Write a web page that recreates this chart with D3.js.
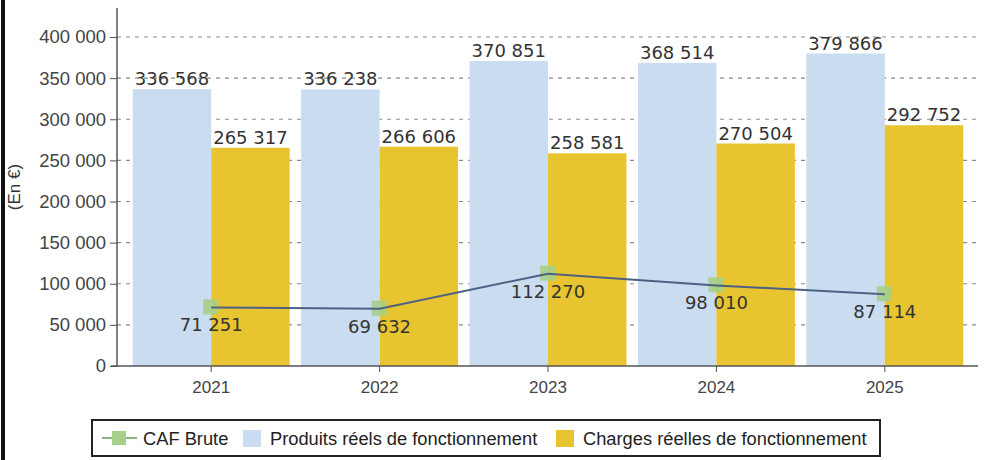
<!DOCTYPE html>
<html>
<head>
<meta charset="utf-8">
<script src="https://cdn.jsdelivr.net/npm/d3@7/dist/d3.min.js"></script>
<style>
  html, body { margin: 0; padding: 0; background: #ffffff; }
  svg { display: block; }
</style>
</head>
<body>
<svg id="chart" width="987" height="460"></svg>
<script>
// ---- Data ----
const years = ["2021", "2022", "2023", "2024", "2025"];
const produits = [336568, 336238, 370851, 368514, 379866];
const charges = [265317, 266606, 258581, 270504, 292752];
const cafBrute = [71251, 69632, 112270, 98010, 87114];
const yTicks = [0, 50000, 100000, 150000, 200000, 250000, 300000, 350000, 400000];
const seriesNames = ["CAF Brute", "Produits réels de fonctionnement", "Charges réelles de fonctionnement"];
const yTitle = "(En €)";

// ---- Setup ----
const svg = d3.select("#chart");
const fmt = d3.formatLocale({ decimal: ",", thousands: " ", grouping: [3], currency: ["", " €"] }).format(",d");

const colBlue = "#cadcf0";
const colYellow = "#e9c431";
const colGreen = "#a6cf88";
const colLine = "#4d6283";

const y = d3.scaleLinear().domain([0, 400000]).range([366, 37]);
const x0 = d3.scaleBand().domain(years).range([127, 969]).paddingInner(0.068).paddingOuter(0.034);
const x1 = d3.scaleBand().domain(["p", "c"]).range([0, x0.bandwidth()]);
const cx = d => x0(d) + x0.bandwidth() / 2;

// left photo border
svg.append("line").attr("x1", 3).attr("x2", 3).attr("y1", 0).attr("y2", 460)
  .attr("stroke", "#111").attr("stroke-width", 4);

// gridlines
svg.append("g").selectAll("line").data(yTicks.filter(t => t > 0)).join("line")
  .attr("x1", 117).attr("x2", 978)
  .attr("y1", d => y(d)).attr("y2", d => y(d))
  .attr("stroke", "#8a8a8a").attr("stroke-width", 1.2).attr("stroke-dasharray", "4,5");

// bars
const groups = svg.append("g").selectAll("g").data(years).join("g")
  .attr("transform", d => `translate(${x0(d)},0)`);
groups.append("rect")
  .attr("x", x1("p")).attr("width", x1.bandwidth())
  .attr("y", (d, i) => y(produits[i])).attr("height", (d, i) => y(0) - y(produits[i]))
  .attr("fill", colBlue);
groups.append("rect")
  .attr("x", x1("c")).attr("width", x1.bandwidth())
  .attr("y", (d, i) => y(charges[i])).attr("height", (d, i) => y(0) - y(charges[i]))
  .attr("fill", colYellow);

// bar labels
const labelStyle = s => s.attr("font-family", "DejaVu Sans, sans-serif").attr("font-size", 18)
  .attr("fill", "#333").attr("text-anchor", "middle");
groups.append("text").call(labelStyle)
  .attr("x", x1("p") + x1.bandwidth() / 2).attr("y", (d, i) => y(produits[i]) - 4)
  .text((d, i) => fmt(produits[i]));
groups.append("text").call(labelStyle)
  .attr("x", x1("c") + x1.bandwidth() / 2).attr("y", (d, i) => y(charges[i]) - 4)
  .text((d, i) => fmt(charges[i]));

// y axis
const yAxis = d3.axisLeft(y).tickValues(yTicks).tickFormat(fmt).tickSize(7).tickPadding(4);
const gy = svg.append("g").attr("transform", "translate(117,0)").call(yAxis);
gy.select(".domain").remove();
gy.selectAll(".tick line").attr("stroke", "#555");
gy.selectAll(".tick text").attr("font-family", "Liberation Sans, Arial, sans-serif")
  .attr("font-size", 18.5).attr("fill", "#444");
svg.append("line").attr("x1", 117).attr("x2", 117).attr("y1", 8).attr("y2", y(0))
  .attr("stroke", "#555").attr("stroke-width", 1.5);

// x axis
const xAxis = d3.axisBottom(x0).tickSize(6).tickPadding(9).tickSizeOuter(0);
const gx = svg.append("g").attr("transform", `translate(0,${y(0)})`).call(xAxis);
gx.select(".domain").remove();
gx.selectAll(".tick line").attr("stroke", "#555");
gx.selectAll(".tick text").attr("font-family", "Liberation Sans, Arial, sans-serif")
  .attr("font-size", 17).attr("fill", "#444");
svg.append("line").attr("x1", 111).attr("x2", 978).attr("y1", y(0)).attr("y2", y(0))
  .attr("stroke", "#555").attr("stroke-width", 1.5);

// y title
svg.append("text").attr("transform", "translate(20,187) rotate(-90)")
  .attr("text-anchor", "middle").attr("font-family", "Liberation Sans, Arial, sans-serif")
  .attr("font-size", 17).attr("fill", "#333").text(yTitle);

// CAF line
svg.append("g").selectAll("rect").data(years).join("rect")
  .attr("x", d => cx(d) - 8).attr("y", (d, i) => y(cafBrute[i]) - 8)
  .attr("width", 15).attr("height", 15).attr("fill", colGreen).attr("opacity", 0.9);
const line = d3.line().x(d => cx(d)).y((d, i) => y(cafBrute[i]));
svg.append("path").datum(years).attr("d", line)
  .attr("fill", "none").attr("stroke", colLine).attr("stroke-width", 2);
svg.append("g").selectAll("text").data(years).join("text").call(labelStyle)
  .attr("x", d => cx(d)).attr("y", (d, i) => y(cafBrute[i]) + 24)
  .text((d, i) => fmt(cafBrute[i]));

// legend
const lg = svg.append("g");
lg.append("rect").attr("x", 92).attr("y", 420).attr("width", 788).attr("height", 36)
  .attr("fill", "#fff").attr("stroke", "#222").attr("stroke-width", 2);
const legFont = s => s.attr("font-family", "Liberation Sans, Arial, sans-serif")
  .attr("font-size", 18.3).attr("fill", "#222");
lg.append("line").attr("x1", 102).attr("x2", 137).attr("y1", 438).attr("y2", 438)
  .attr("stroke", "#6a9a50").attr("stroke-width", 1.5);
lg.append("rect").attr("x", 112).attr("y", 431).attr("width", 14).attr("height", 14).attr("fill", colGreen);
lg.append("text").call(legFont).attr("x", 143).attr("y", 445).text(seriesNames[0]);
lg.append("rect").attr("x", 243).attr("y", 430).attr("width", 18).attr("height", 17).attr("fill", colBlue);
lg.append("text").call(legFont).attr("x", 270).attr("y", 445).text(seriesNames[1]);
lg.append("rect").attr("x", 556).attr("y", 430).attr("width", 18).attr("height", 17).attr("fill", colYellow);
lg.append("text").call(legFont).attr("x", 583).attr("y", 445).text(seriesNames[2]);
</script>
</body>
</html>
